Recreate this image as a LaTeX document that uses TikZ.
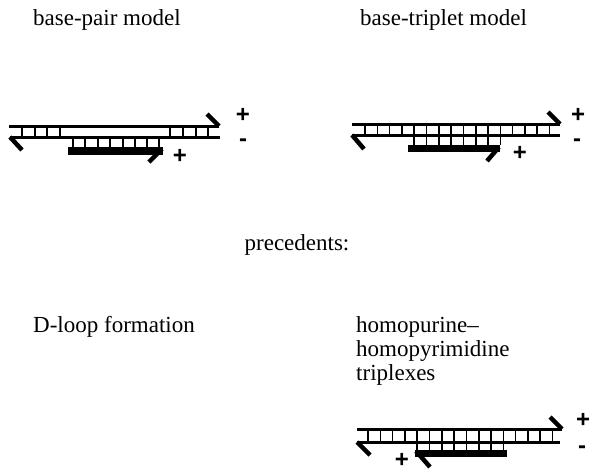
\documentclass[tikz,border=0pt]{standalone}
\usepackage{fontspec}
\setmainfont{Liberation Serif}
\newfontfamily\signfont{Liberation Sans}
\begin{document}
\begin{tikzpicture}[x=1pt,y=-1pt,
  strand/.style={line width=3pt},
  rung/.style={line width=1.6pt},
  barb/.style={line width=4.5pt},
  lab/.style={font=\fontsize{23}{27}\selectfont, inner sep=0pt},
  sign/.style={font=\signfont\bfseries\fontsize{24}{24}\selectfont, inner sep=0pt}]
\useasboundingbox[fill=white] (0,0) rectangle (594,471);

% titles
\node[lab, anchor=base west] (t1) at (33,25) {base-pair model};
\node[lab, anchor=base west] (t2) at (360,25) {base-triplet model};
\node[lab, anchor=base] (t3) at (297,250) {precedents:};
\node[lab, anchor=base west] (t4) at (33,332) {D-loop formation};
\node[lab, anchor=base west] (t5) at (356,332) {homopurine–};
\node[lab, anchor=base west] (t6) at (356,356) {homopyrimidine};
\node[lab, anchor=base west] (t7) at (356,380) {triplexes};

% base-pair model
\draw[strand] (9,126) -- (219,126);
\draw[barb] (219,126) -- (207,114);
\draw[strand] (10,137) -- (220,137);
\draw[barb] (10,137) -- (22,150);
\foreach \x in {22,35,47,60,170,183,196,208} \draw[rung] (\x,126) -- (\x,137);
\foreach \x in {73,85,98,110,123,135,147,159} \draw[rung] (\x,137) -- (\x,148);
\fill (68,147) rectangle (163,155);
\draw[barb] (162,149) -- (149,162);
\node[sign] (p1) at (180,156) {+};
\node[sign] (p2) at (243,115) {+};
\node[sign] (m1) at (243,143) {-};

% base-triplet model
\draw[strand] (352,124) -- (560,124);
\draw[barb] (560,124) -- (548,112);
\draw[strand] (352,135) -- (560,135);
\draw[barb] (352,135) -- (364,149);
\foreach \k in {0,...,15} \draw[rung] ({365+12.3*\k},124) -- ({365+12.3*\k},135);
\foreach \k in {4,...,11} \draw[rung] ({365+12.3*\k},135) -- ({365+12.3*\k},145);
\fill (408,145) rectangle (500,152);
\draw[barb] (499,147) -- (487,161);
\node[sign] (p3) at (520,153) {+};
\node[sign] (p4) at (578,115) {+};
\node[sign] (m2) at (577,143) {-};

% triplex
\draw[strand] (357,429) -- (562,429);
\draw[barb] (562,429) -- (550,417);
\draw[strand] (357,442) -- (560,442);
\draw[barb] (357,442) -- (370,455);
\foreach \k in {0,...,15} \draw[rung] ({368+12.3*\k},429) -- ({368+12.3*\k},442);
\foreach \k in {4,...,11} \draw[rung] ({368+12.3*\k},442) -- ({368+12.3*\k},450);
\fill (415,450) rectangle (507,457);
\draw[barb] (416,451) -- (430,467);
\node[sign] (p5) at (402,460) {+};
\node[sign] (p6) at (583,420) {+};
\node[sign] (m3) at (582,450) {-};
\end{tikzpicture}
\end{document}
